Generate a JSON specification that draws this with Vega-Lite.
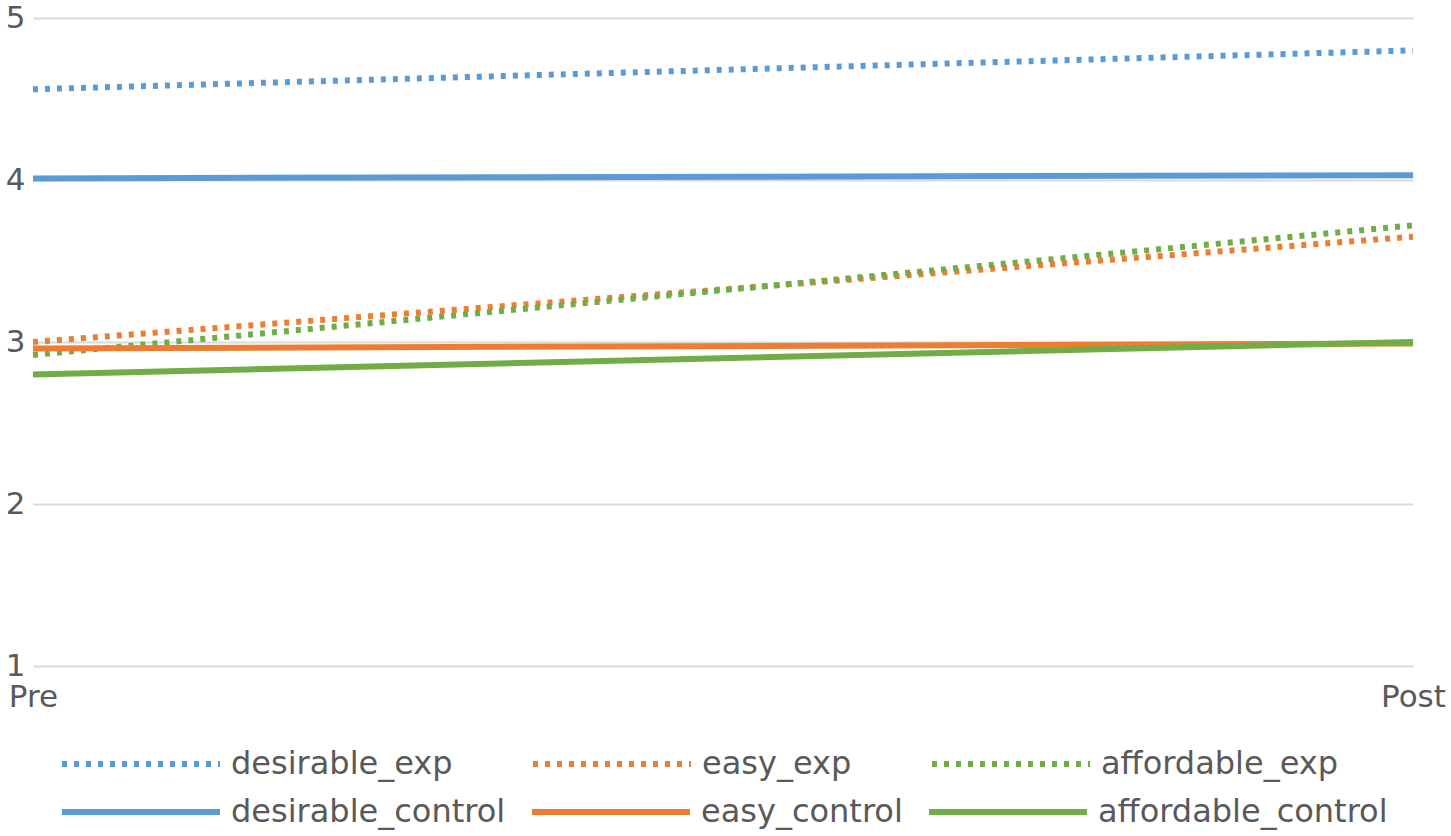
{
  "$schema": "https://vega.github.io/schema/vega-lite/v6.json",
  "width": 1380,
  "height": 648,
  "autosize": {"type": "none"},
  "padding": {"left": 33, "top": 18, "right": 38, "bottom": 170},
  "background": "white",
  "config": {
    "view": {"stroke": null},
    "font": "DejaVu Sans",
    "axis": {"labelFont": "DejaVu Sans", "labelColor": "#595959", "labelFontSize": 31},
    "legend": {"labelFont": "DejaVu Sans", "labelColor": "#595959", "labelFontSize": 32}
  },
  "datasets": {
    "exp": [
      {"time": "Pre", "series": "desirable_exp", "value": 4.56},
      {"time": "Post", "series": "desirable_exp", "value": 4.80},
      {"time": "Pre", "series": "easy_exp", "value": 3.00},
      {"time": "Post", "series": "easy_exp", "value": 3.65},
      {"time": "Pre", "series": "affordable_exp", "value": 2.92},
      {"time": "Post", "series": "affordable_exp", "value": 3.72}
    ],
    "control": [
      {"time": "Pre", "series": "desirable_control", "value": 4.01},
      {"time": "Post", "series": "desirable_control", "value": 4.03},
      {"time": "Pre", "series": "easy_control", "value": 2.96},
      {"time": "Post", "series": "easy_control", "value": 2.99},
      {"time": "Pre", "series": "affordable_control", "value": 2.80},
      {"time": "Post", "series": "affordable_control", "value": 3.00}
    ]
  },
  "encoding": {
    "x": {
      "field": "time", "type": "ordinal", "sort": ["Pre", "Post"],
      "scale": {"type": "point", "padding": 0},
      "axis": {"title": null, "ticks": false, "domain": false, "grid": false, "labelAngle": 0, "labelPadding": 16, "labelBaseline": "top"}
    },
    "y": {
      "field": "value", "type": "quantitative",
      "scale": {"domain": [1, 5], "nice": false, "zero": false},
      "axis": {"title": null, "values": [1, 2, 3, 4, 5], "ticks": false, "domain": false, "gridColor": "#d9d9d9", "gridWidth": 2, "labelPadding": 8}
    }
  },
  "layer": [
    {
      "data": {"name": "exp"},
      "mark": {"type": "line", "strokeWidth": 6, "strokeCap": "butt", "strokeDash": [5, 7]},
      "encoding": {
        "color": {
          "field": "series", "type": "nominal",
          "scale": {
            "domain": ["desirable_exp", "easy_exp", "affordable_exp"],
            "range": ["#5B9BD5", "#ED7D31", "#70AD47"]
          },
          "legend": {
            "title": null, "orient": "none", "legendX": 26, "legendY": 664, "direction": "horizontal",
            "symbolType": "stroke", "symbolSize": 24964, "symbolStrokeWidth": 6, "symbolDash": [5, 7],
            "labelOffset": 8, "columnPadding": 68, "padding": 0, "labelLimit": 0
          }
        }
      }
    },
    {
      "data": {"name": "control"},
      "mark": {"type": "line", "strokeWidth": 6, "strokeCap": "butt"},
      "encoding": {
        "color": {
          "field": "series", "type": "nominal",
          "scale": {
            "domain": ["desirable_control", "easy_control", "affordable_control"],
            "range": ["#5B9BD5", "#ED7D31", "#70AD47"]
          },
          "legend": {
            "title": null, "orient": "none", "legendX": 26, "legendY": 712, "direction": "horizontal",
            "symbolType": "stroke", "symbolSize": 24964, "symbolStrokeWidth": 6,
            "labelOffset": 8, "columnPadding": 14, "padding": 0, "labelLimit": 0
          }
        }
      }
    }
  ],
  "resolve": {"scale": {"color": "independent"}, "legend": {"color": "independent"}}
}
